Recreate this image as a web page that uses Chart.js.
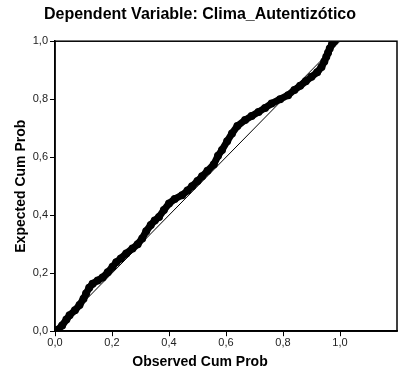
<!DOCTYPE html>
<html>
<head>
<meta charset="utf-8">
<script src="https://cdn.jsdelivr.net/npm/chart.js@4/dist/chart.umd.min.js"></script>
<style>
    html, body { margin: 0; padding: 0; background: #fff; }
    #wrap { width: 401px; height: 380px; }
</style>
</head>
<body>
<div id="wrap"><canvas id="chart"></canvas></div>
<script>
const observedCumProb = [
    0.010, 0.025, 0.040, 0.051, 0.070, 0.086, 0.100, 0.109, 0.120, 0.132,
    0.150, 0.167, 0.185, 0.202, 0.215, 0.231, 0.250, 0.272, 0.290, 0.306,
    0.320, 0.336, 0.350, 0.365, 0.382, 0.400, 0.420, 0.446, 0.465, 0.481,
    0.500, 0.516, 0.535, 0.557, 0.572, 0.586, 0.604, 0.621, 0.640, 0.667,
    0.690, 0.714, 0.737, 0.760, 0.790, 0.818, 0.840, 0.860, 0.880, 0.900,
    0.920, 0.935, 0.945, 0.952, 0.958, 0.964, 0.972, 0.980,
];
const expectedCumProb = [
    0.005, 0.020, 0.040, 0.055, 0.072, 0.090, 0.112, 0.130, 0.150, 0.164,
    0.175, 0.185, 0.203, 0.222, 0.238, 0.251, 0.268, 0.285, 0.300, 0.320,
    0.345, 0.366, 0.382, 0.394, 0.418, 0.440, 0.456, 0.469, 0.485, 0.500,
    0.518, 0.534, 0.553, 0.575, 0.605, 0.625, 0.655, 0.682, 0.708, 0.728,
    0.742, 0.756, 0.770, 0.785, 0.800, 0.814, 0.832, 0.846, 0.862, 0.877,
    0.893, 0.911, 0.930, 0.946, 0.960, 0.975, 0.990, 1.000,
];
const diagonalX = [0, 1];
const diagonalY = [0, 1];
const xTickValues = [0, 0.2, 0.4, 0.6, 0.8, 1.0];
const yTickValues = [0, 0.2, 0.4, 0.6, 0.8, 1.0];

const fontFamily = '"Liberation Sans", Arial, sans-serif';
const commaTick = (value) => Number(value).toFixed(1).replace('.', ',');

const frame = {
    id: 'frame',
    afterDatasetsDraw(chart) {
        const { ctx, chartArea } = chart;
        ctx.save();
        ctx.strokeStyle = '#000';
        ctx.lineWidth = 1.5;
        ctx.strokeRect(chartArea.left, chartArea.top, chartArea.right - chartArea.left, chartArea.bottom - chartArea.top);
        ctx.restore();
    },
};

new Chart(document.getElementById('chart'), {
    type: 'scatter',
    data: {
        datasets: [
            {
                label: 'Observed',
                data: observedCumProb.map((x, i) => ({ x, y: expectedCumProb[i] })),
                showLine: true,
                borderColor: '#000',
                backgroundColor: '#000',
                borderWidth: 7,
                pointRadius: 4,
                pointBorderWidth: 0,
                order: 1,
            },
            {
                label: 'Diagonal',
                data: diagonalX.map((x, i) => ({ x, y: diagonalY[i] })),
                showLine: true,
                borderColor: '#000',
                borderWidth: 1,
                pointRadius: 0,
                order: 2,
            },
        ],
    },
    options: {
        responsive: true,
        maintainAspectRatio: false,
        animation: false,
        layout: {
            padding: { left: 0, right: 1, top: 0, bottom: 0 },
        },
        plugins: {
            legend: { display: false },
            tooltip: { enabled: false },
            title: {
                display: true,
                text: 'Dependent Variable: Clima_Autentizótico',
                color: '#000',
                font: { family: fontFamily, size: 16, weight: 'bold' },
                padding: { top: 5, bottom: 17 },
            },
            subtitle: {
                display: true,
                position: 'bottom',
                text: 'Observed Cum Prob',
                color: '#000',
                font: { family: fontFamily, size: 14, weight: 'bold' },
                padding: { top: 4, bottom: 9 },
            },
        },
        scales: {
            x: {
                type: 'linear',
                min: 0,
                max: 1.2,
                afterBuildTicks: (scale) => {
                    scale.ticks = xTickValues.map((value) => ({ value }));
                },
                afterFit: (scale) => {
                    scale.height = 19;
                },
                grid: {
                    drawOnChartArea: false,
                    drawTicks: true,
                    tickLength: 5,
                    color: '#000',
                },
                border: { display: true, color: '#000', width: 1.5 },
                ticks: {
                    color: '#222',
                    padding: 0,
                    maxRotation: 0,
                    font: { family: fontFamily, size: 11 },
                    callback: commaTick,
                },
            },
            y: {
                type: 'linear',
                min: 0,
                max: 1,
                afterBuildTicks: (scale) => {
                    scale.ticks = yTickValues.map((value) => ({ value }));
                },
                afterFit: (scale) => {
                    scale.width = 55;
                },
                grid: {
                    drawOnChartArea: false,
                    drawTicks: true,
                    tickLength: 5,
                    color: '#000',
                },
                border: { display: true, color: '#000', width: 1.5 },
                ticks: {
                    color: '#222',
                    padding: 2,
                    font: { family: fontFamily, size: 11 },
                    callback: commaTick,
                },
                title: {
                    display: true,
                    text: 'Expected Cum Prob',
                    color: '#000',
                    font: { family: fontFamily, size: 14, weight: 'bold' },
                    padding: { top: 13, bottom: 0 },
                },
            },
        },
    },
    plugins: [frame],
});
</script>
</body>
</html>
